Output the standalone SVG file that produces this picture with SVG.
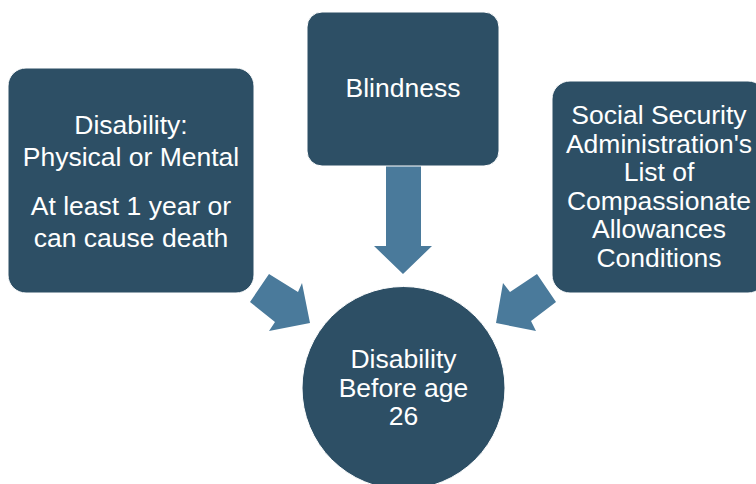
<svg xmlns="http://www.w3.org/2000/svg" width="756" height="484" viewBox="0 0 756 484">
<style>
.box{fill:#2D4F65;stroke:#ffffff;stroke-width:1}
.arr{fill:#4A7A9B}
text{font-family:"Liberation Sans",Arial,sans-serif;font-size:26.5px;fill:#ffffff;text-anchor:middle}
</style>
<rect width="756" height="484" fill="#ffffff"/>
<g id="connectors">
<polygon class="arr" points="386,166 421,166 421,246 432,246 403,274 374,246 386,246"/>
<polygon class="arr" points="250,302 269,274 298,292 302,283 310,323 269,331 275,322"/>
<polygon class="arr" points="556,302 537,274 510,292 503,283 496,323 536,331 531,321"/>
</g>
<g id="node-disability">
<rect class="box" x="8" y="68" width="246" height="225" rx="18"/>
<text x="131" y="134">Disability:</text>
<text x="131" y="166">Physical or Mental</text>
<text x="131" y="215">At least 1 year or</text>
<text x="131" y="247">can cause death</text>
</g>
<g id="node-blindness">
<rect class="box" x="307" y="12" width="192" height="154" rx="15"/>
<text x="403" y="97">Blindness</text>
</g>
<g id="node-ssa">
<rect class="box" x="552" y="81" width="214" height="212" rx="18"/>
<text x="659" y="124">Social Security</text>
<text x="659" y="152.6">Administration's</text>
<text x="659" y="181.2">List of</text>
<text x="659" y="209.8">Compassionate</text>
<text x="659" y="238.4">Allowances</text>
<text x="659" y="267">Conditions</text>
</g>
<g id="node-center">
<circle class="box" cx="403.5" cy="388" r="101.5"/>
<text x="403.5" y="368">Disability</text>
<text x="403.5" y="397">Before age</text>
<text x="403.5" y="425">26</text>
</g>
</svg>
